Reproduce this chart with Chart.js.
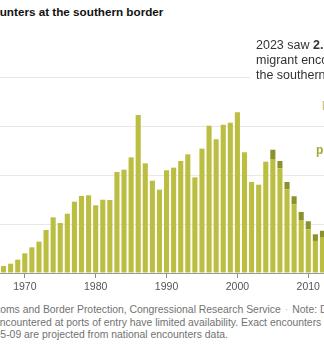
<!DOCTYPE html>
<html>
<head>
<meta charset="utf-8">
<script src="https://cdn.jsdelivr.net/npm/chart.js@4/dist/chart.umd.min.js"></script>
<style>
  html, body { margin: 0; padding: 0; background: #fff; }
  body { width: 324px; height: 354px; overflow: hidden; position: relative; font-family: "Liberation Sans", Arial, sans-serif; }
  .line { position: absolute; left: 0; white-space: nowrap; }
  .title { top: 5px; font-size: 11.7px; font-weight: bold; color: #121212; }
  .note { font-size: 10.4px; color: #727272; line-height: 12px; }
  .note .dot { color: #bbb; padding: 0 4px; }
  #chartBox { position: absolute; left: 0; top: 73px; width: 326px; height: 230px; }
  .annot { position: absolute; left: 250px; top: 38px; padding-left: 6px; background: #fff; font-size: 12.5px; line-height: 15px; color: #333; white-space: nowrap; }
  .lab { position: absolute; font-size: 12px; font-weight: bold; white-space: nowrap; }
</style>
</head>
<body>

<div class="line title"><span class="cut">Migrant enco</span>unters at the southern border</div>

<div id="chartBox"><canvas id="encountersChart"></canvas></div>

<div class="annot">2023 saw <b>2.5 million</b><br>migrant encounters at<br>the southern border</div>
<div class="lab" style="left:322px; top:99px; color:#c9cb6a;">Border Patrol</div>
<div class="lab" style="left:316px; top:143px; color:#a3a834;">plus ports of entry</div>

<div class="line note" style="top:304px;"><span class="cut">Source: U.S. Cust</span>oms and Border Protection, Congressional Research Service<span class="dot">·</span>Note: Data on migrants</div>
<div class="line note" style="top:317px;"><span class="cut">e</span>ncountered at ports of entry have limited availability. Exact encounters are available</div>
<div class="line note" style="top:329px;"><span class="cut">for 200</span>5-09 are projected from national encounters data.</div>

<script>
// --- DATA (millions of encounters) ---
const years = ['1967','1968','1969','1970','1971','1972','1973','1974','1975','1976',
               '1977','1978','1979','1980','1981','1982','1983','1984','1985','1986',
               '1987','1988','1989','1990','1991','1992','1993','1994','1995','1996',
               '1997','1998','1999','2000','2001','2002','2003','2004','2005','2006',
               '2007','2008','2009','2010','2011','2012'];

const borderPatrol = [0.071, 0.095, 0.136, 0.201, 0.262, 0.320, 0.439, 0.568, 0.510, 0.605,
                      0.728, 0.786, 0.793, 0.691, 0.748, 0.745, 1.031, 1.054, 1.180, 1.612,
                      1.119, 0.942, 0.850, 1.048, 1.075, 1.143, 1.211, 0.976, 1.269, 1.503,
                      1.364, 1.513, 1.534, 1.640, 1.232, 0.929, 0.901, 1.136, 1.163, 1.068,
                      0.854, 0.701, 0.541, 0.446, 0.327, 0.360];

const portsOfEntry = [null, null, null, null, null, null, null, null, null, null,
                      null, null, null, null, null, null, null, null, null, null,
                      null, null, null, null, null, null, null, null, null, null,
                      null, null, null, null, null, null, null, null, 0.095, 0.075,
                      0.075, 0.082, 0.082, 0.082, 0.068, 0.071];

const yTicks = [0, 0.5, 1, 1.5, 2];

// shift cut-off text lines so the hidden prefix sits left of the page
document.querySelectorAll('.line').forEach(function(el) {
    const cut = el.querySelector('.cut');
    if (cut) el.style.marginLeft = (-cut.offsetWidth) + 'px';
});

const ctx = document.getElementById('encountersChart');
new Chart(ctx, {
    type: 'bar',
    data: {
        labels: years,
        datasets: [{
            label: 'Border Patrol',
            data: borderPatrol,
            backgroundColor: '#bcbe42',
            borderWidth: 0,
            barPercentage: 0.72,
            categoryPercentage: 1
        }, {
            label: 'Ports of entry',
            data: portsOfEntry,
            backgroundColor: '#8c922b',
            borderWidth: 0,
            barPercentage: 0.72,
            categoryPercentage: 1
        }]
    },
    options: {
        responsive: true,
        maintainAspectRatio: false,
        animation: false,
        layout: { padding: { top: 4, left: 0, right: 0, bottom: 0 } },
        plugins: {
            legend: { display: false },
            tooltip: { enabled: false }
        },
        scales: {
            x: {
                stacked: true,
                grid: {
                    offset: false,
                    drawOnChartArea: false,
                    tickLength: 5,
                    color: function(c) { return Number(years[c.index]) % 10 === 0 ? '#8a8a8a' : 'rgba(0,0,0,0)'; }
                },
                border: { color: '#9a9a9a' },
                ticks: {
                    autoSkip: false,
                    maxRotation: 0,
                    padding: 3,
                    color: '#555',
                    font: { family: 'Liberation Sans', size: 10.5 },
                    callback: function(v, i) { return Number(years[i]) % 10 === 0 ? years[i] : ''; }
                },
                afterFit: function(s) { s.height = 30; }
            },
            y: {
                stacked: true,
                min: yTicks[0],
                max: yTicks[yTicks.length - 1],
                afterBuildTicks: function(s) { s.ticks = yTicks.map(v => ({ value: v })); },
                ticks: { display: false },
                grid: {
                    drawTicks: false,
                    color: function(c) { return c.tick && c.tick.value === 0 ? 'rgba(0,0,0,0)' : '#e8e8e8'; }
                },
                border: { display: false },
                afterFit: function(s) { s.width = 0; }
            }
        }
    }
});
</script>
</body>
</html>
